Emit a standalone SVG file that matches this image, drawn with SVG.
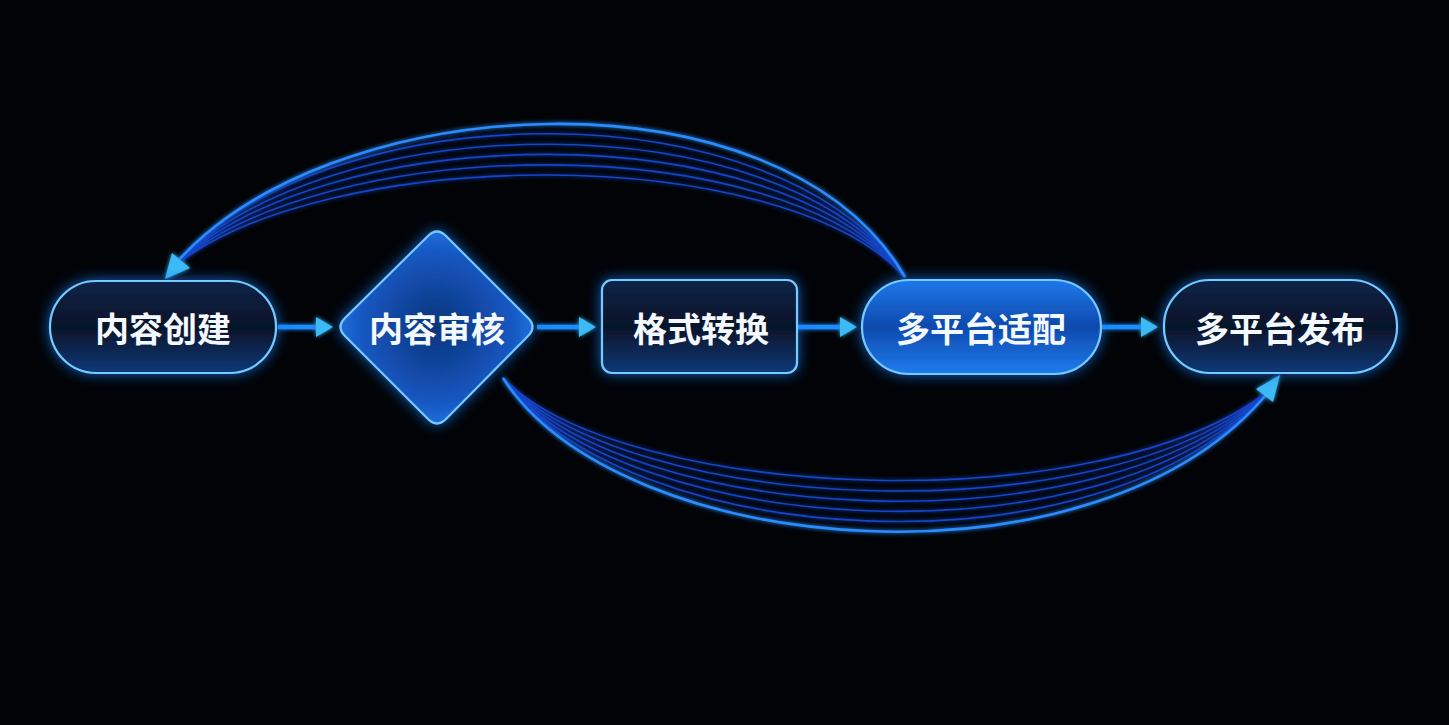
<svg xmlns="http://www.w3.org/2000/svg" width="1449" height="725" viewBox="0 0 1449 725">
<defs>
<style>
.lbl{font-family:"Noto Sans CJK SC","Noto Sans",sans-serif;font-size:34px;font-weight:700;fill:#f4f8ff;text-anchor:middle;dominant-baseline:central}
.nb{stroke:#74caff;stroke-width:2.2}
.arc{fill:none;stroke:#1744c8;stroke-width:1.6}
.arcb{fill:none;stroke:#2a8cff;stroke-width:2.6}
.fl{stroke:#1e8cff;stroke-width:4.5;fill:none}
.ah{fill:#3cbaf5}
</style>
<linearGradient id="gDark" x1="0" y1="0" x2="0" y2="1">
<stop offset="0" stop-color="#0c2448"/>
<stop offset="0.5" stop-color="#061328"/>
<stop offset="1" stop-color="#0f3a78"/>
</linearGradient>
<linearGradient id="gBlue" x1="0" y1="0" x2="0" y2="1">
<stop offset="0" stop-color="#1f78ea"/>
<stop offset="0.5" stop-color="#0d4aad"/>
<stop offset="1" stop-color="#1f7ced"/>
</linearGradient>
<radialGradient id="gDia" cx="0.5" cy="0.5" r="0.55">
<stop offset="0" stop-color="#0c3479"/>
<stop offset="0.7" stop-color="#1556c0"/>
<stop offset="1" stop-color="#2378e6"/>
</radialGradient>
<filter id="glow" x="-30%" y="-30%" width="160%" height="160%">
<feGaussianBlur in="SourceAlpha" stdDeviation="7" result="b"/>
<feFlood flood-color="#1a7dff" flood-opacity="0.75"/>
<feComposite in2="b" operator="in" result="g"/>
<feMerge><feMergeNode in="g"/><feMergeNode in="SourceGraphic"/></feMerge>
</filter>
<filter id="lglow" x="-10%" y="-10%" width="120%" height="120%">
<feGaussianBlur stdDeviation="2" result="b"/>
<feMerge><feMergeNode in="b"/><feMergeNode in="SourceGraphic"/></feMerge>
</filter>
</defs>
<rect width="1449" height="725" fill="#010306"/>

<g id="connectors" filter="url(#lglow)">
<g id="loop-top">
<path class="arc" d="M905 277 C780 140 322 145 172 268"/>
<path class="arc" d="M905 277 C780 126 322 132 172 268"/>
<path class="arc" d="M905 277 C780 112 322 118 172 268"/>
<path class="arc" d="M905 277 C780 98 322 105 172 268"/>
<path class="arc" d="M905 277 C780 84 322 91 172 268"/>
<path class="arcb" d="M905 277 C780 61 322 88 172 268"/>
<polygon class="ah" points="165,279 172,253 190,268"/>
</g>
<g id="loop-bottom">
<path class="arc" d="M503 378 C620 500 1100 524 1270 390"/>
<path class="arc" d="M503 378 C620 512 1100 540 1270 390"/>
<path class="arc" d="M503 378 C620 524 1100 555 1270 390"/>
<path class="arc" d="M503 378 C620 536 1100 570 1270 390"/>
<path class="arc" d="M503 378 C620 548 1100 585 1270 390"/>
<path class="arcb" d="M503 378 C620 560 1100 600 1270 390"/>
<polygon class="ah" points="1280,375 1256,389 1273,402"/>
</g>
<g id="flow-arrows">
<line class="fl" x1="278" y1="327" x2="318" y2="327"/>
<polygon class="ah" points="333,327 316,317 316,337"/>
<line class="fl" x1="537" y1="327" x2="581" y2="327"/>
<polygon class="ah" points="596,327 579,317 579,337"/>
<line class="fl" x1="797" y1="327" x2="842" y2="327"/>
<polygon class="ah" points="857,327 840,317 840,337"/>
<line class="fl" x1="1101" y1="327" x2="1143" y2="327"/>
<polygon class="ah" points="1158,327 1141,317 1141,337"/>
</g>
</g>

<g id="node-create">
<rect class="nb" x="50" y="281" width="226" height="92" rx="46" fill="url(#gDark)" filter="url(#glow)"/>
<text class="lbl" x="163" y="327">内容创建</text>
</g>
<g id="node-review">
<path class="nb" d="M428 236 L345 318 Q336 327 345 336 L428 419 Q437 428 446 419 L528 336 Q537 327 528 318 L446 236 Q437 227 428 236 Z" fill="url(#gDia)" filter="url(#glow)"/>
<text class="lbl" x="437" y="327">内容审核</text>
</g>
<g id="node-convert">
<rect class="nb" x="602" y="280" width="195" height="93" rx="10" fill="url(#gDark)" filter="url(#glow)"/>
<text class="lbl" x="701" y="327">格式转换</text>
</g>
<g id="node-adapt">
<rect class="nb" x="862" y="280" width="239" height="94" rx="47" fill="url(#gBlue)" filter="url(#glow)"/>
<text class="lbl" x="981" y="327">多平台适配</text>
</g>
<g id="node-publish">
<rect class="nb" x="1164" y="280" width="233" height="93" rx="46" fill="url(#gDark)" filter="url(#glow)"/>
<text class="lbl" x="1280" y="327">多平台发布</text>
</g>
</svg>
